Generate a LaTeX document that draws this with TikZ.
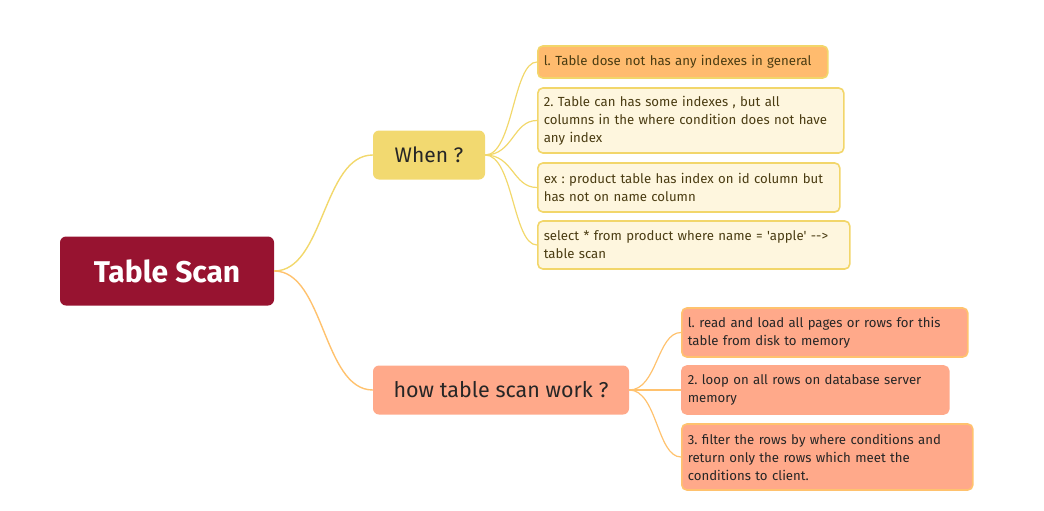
\documentclass[tikz,border=0pt]{standalone}
\usepackage{fontspec}
\setmainfont{Fira Sans}[Ligatures=TeXOff]
\definecolor{rootred}{HTML}{971330}
\definecolor{whenfill}{HTML}{F2D970}
\definecolor{whenline}{HTML}{F2D86C}
\definecolor{howfill}{HTML}{FFA98A}
\definecolor{howline}{HTML}{FFC26E}
\definecolor{firstfill}{HTML}{FFBB6E}
\definecolor{creamfill}{HTML}{FEF6DE}
\definecolor{creamline}{HTML}{F2D66A}
\definecolor{olivetext}{HTML}{4A3C12}

\tikzset{
  topic/.style={rounded corners=6pt, inner sep=0pt, anchor=center},
  leaf/.style={draw, line width=1.6pt, rounded corners=5pt, align=left,
    anchor=west, inner sep=6pt, font=\fontsize{13.2}{18}\selectfont\frenchspacing},
  whenleaf/.style={leaf, draw=creamline, fill=creamfill, text=olivetext},
  howleaf/.style={leaf, draw=howline, fill=howfill, text=black!85},
  whenlink/.style={draw=whenline, line width=1.4pt},
  howlink/.style={draw=howline, line width=1.4pt}
}

\begin{document}
\begin{tikzpicture}[x=1pt,y=-1pt]
\useasboundingbox (0,0) rectangle (1044,511);

% main topics
\node[topic, fill=rootred, text=white, minimum width=214pt, minimum height=69pt,
  font=\fontsize{30}{34}\selectfont\bfseries] (root) at (167,271) {Table Scan};
\node[topic, fill=whenfill, text=black!85, minimum width=112pt, minimum height=49pt,
  font=\fontsize{21}{25}\selectfont] (when) at (429,155) {When ?};
\node[topic, fill=howfill, text=black!85, minimum width=256pt, minimum height=49pt,
  font=\fontsize{21.5}{25}\selectfont] (how) at (501,390) {how table scan work ?};

% when ?
\node[whenleaf, fill=firstfill, text width=278pt, minimum height=32pt] (w1) at (537,62)
  {l. Table dose not has any indexes in general};
\node[whenleaf, text width=294pt, minimum height=65pt] (w2) at (537,120.5)
  {2. Table can has some indexes , but all\\columns in the where condition does not have\\any index};
\node[whenleaf, text width=290pt, minimum height=49pt] (w3) at (537,187.5)
  {ex : product table has index on id column but\\has not on name column};
\node[whenleaf, text width=300pt, minimum height=48pt] (w4) at (537,245)
  {select * from product where name = 'apple' -->\\table scan};

% how table scan work ?
\node[howleaf, text width=274pt, minimum height=49pt] (h1) at (681,332.5)
  {l. read and load all pages or rows for this\\table from disk to memory};
\node[howleaf, draw=howfill, text width=255pt, minimum height=48pt] (h2) at (681,390)
  {2. loop on all rows on database server\\memory};
\node[howleaf, text width=279pt, minimum height=66pt] (h3) at (681,457)
  {3. filter the rows by where conditions and\\return only the rows which meet the\\conditions to client.};

% branches
\draw[whenlink] (root.east) .. controls +(50,0) and +(-50,0) .. (when.west);
\draw[howlink] (root.east) .. controls +(50,0) and +(-50,0) .. (how.west);
\foreach \n in {w1,w2,w3,w4}
  \draw[whenlink, line width=1.2pt] (when.east) .. controls +(28,0) and +(-24,0) .. (\n.west);
\foreach \n in {h1,h2,h3}
  \draw[howlink, line width=1.2pt] (how.east) .. controls +(28,0) and +(-24,0) .. (\n.west);

\end{tikzpicture}
\end{document}
